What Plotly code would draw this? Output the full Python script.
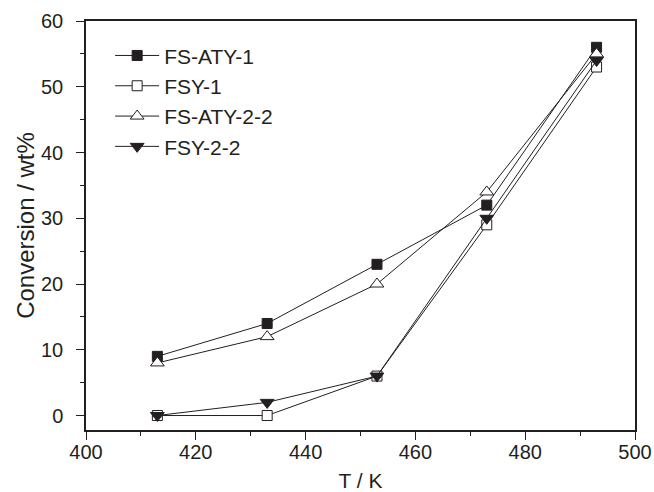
import plotly.graph_objects as go

temps = [413, 433, 453, 473, 493]
fs_aty_1 = [9, 14, 23, 32, 56]
fsy_1 = [0, 0, 6, 29, 53]
fs_aty_2_2 = [8, 12, 20, 34, 55]
fsy_2_2 = [0, 2, 6, 30, 54]

names = ["FS-ATY-1", "FSY-1", "FS-ATY-2-2", "FSY-2-2"]
series = [fs_aty_1, fsy_1, fs_aty_2_2, fsy_2_2]
symbols = ["square", "square", "triangle-up", "triangle-down"]
fills = ["#231f20", "white", "white", "#231f20"]
sizes = [10, 10, 12, 12]

INK = "#231f20"
FONT = "Liberation Sans, Arial, sans-serif"

fig = go.Figure()
for n, s, sym, fc, sz in zip(names, series, symbols, fills, sizes):
    fig.add_trace(go.Scatter(
        x=temps, y=s, name=n, mode="lines+markers",
        line=dict(color=INK, width=1),
        marker=dict(symbol=sym, size=sz, color=fc, line=dict(color=INK, width=1)),
    ))

axis_common = dict(
    showgrid=False, zeroline=False, showline=True, linecolor=INK, linewidth=1.5,
    mirror=True, ticks="outside", ticklen=8, tickwidth=1.2, tickcolor=INK,
    tickfont=dict(family=FONT, size=20, color=INK), automargin=False,
)
fig.update_xaxes(range=[400, 500], dtick=20, tick0=400, ticklabelstandoff=-5,
                 minor=dict(dtick=10, ticks="outside", ticklen=4, tickcolor=INK, tickwidth=1.2),
                 title=dict(text="T / K", font=dict(family=FONT, size=21, color=INK), standoff=19),
                 **axis_common)
fig.update_yaxes(range=[-2.2, 60], dtick=10, tick0=0, ticklabelstandoff=9,
                 minor=dict(dtick=5, ticks="outside", ticklen=4, tickcolor=INK, tickwidth=1.2),
                 title=dict(text="Conversion / wt%", font=dict(family=FONT, size=24, color=INK), standoff=0),
                 **axis_common)

fig.update_layout(
    width=654, height=492,
    margin=dict(l=86, r=19, t=21, b=62),
    paper_bgcolor="white", plot_bgcolor="white",
    showlegend=True,
    legend=dict(x=0.044, y=0.965, xanchor="left", yanchor="top",
                font=dict(family=FONT, size=21, color=INK),
                bgcolor="rgba(0,0,0,0)", itemwidth=44, tracegroupgap=1),
)
fig.write_html("out.html")
